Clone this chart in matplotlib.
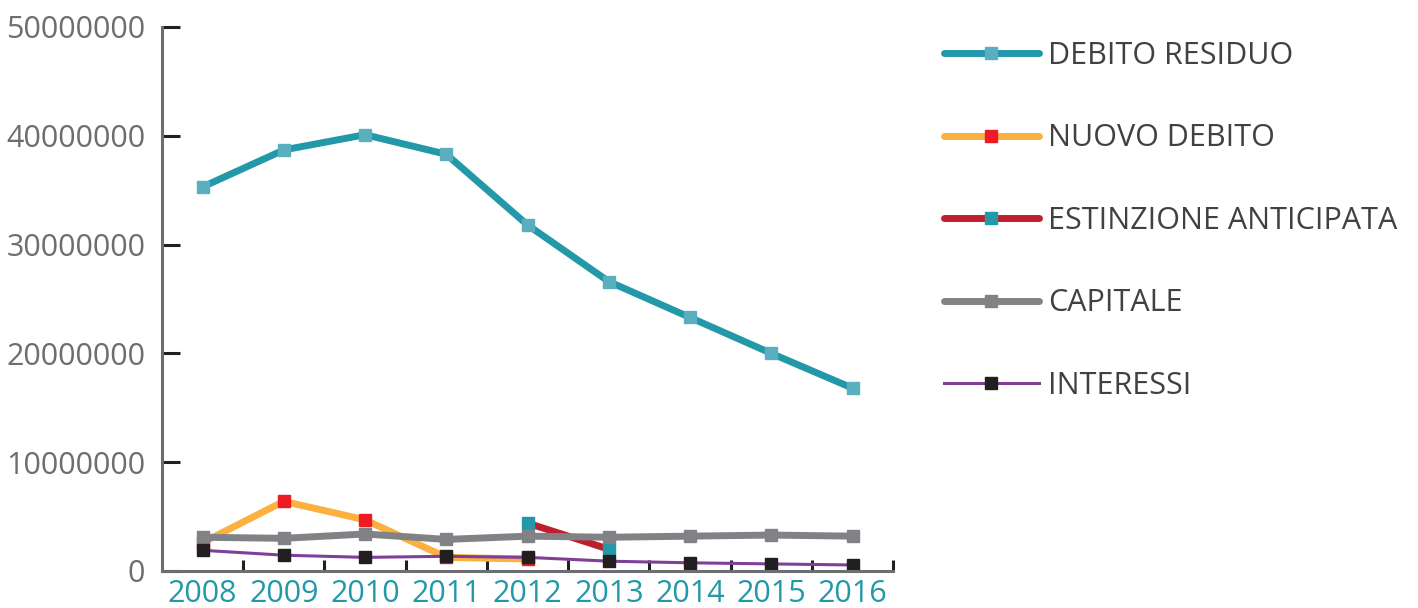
import matplotlib
matplotlib.use("Agg")
import matplotlib.pyplot as plt
import numpy as np

plt.rcParams['font.family'] = ['Open Sans', 'DejaVu Sans']

years = [2008, 2009, 2010, 2011, 2012, 2013, 2014, 2015, 2016]

debito_residuo = [35300000, 38700000, 40100000, 38300000, 31800000, 26600000, 23300000, 20000000, 16800000]
nuovo_debito = [2600000, 6400000, 4700000, 1250000, 1100000, np.nan, np.nan, np.nan, np.nan]
estinzione = [np.nan, np.nan, np.nan, np.nan, 4400000, 2000000, np.nan, np.nan, np.nan]
capitale = [3100000, 3000000, 3400000, 2900000, 3200000, 3100000, 3200000, 3300000, 3200000]
interessi = [1900000, 1450000, 1250000, 1350000, 1250000, 900000, 750000, 650000, 550000]

labels = ["DEBITO RESIDUO", "NUOVO DEBITO", "ESTINZIONE ANTICIPATA", "CAPITALE", "INTERESSI"]

fig = plt.figure(figsize=(14.18, 6.08), dpi=100)
ax = fig.add_axes([0.1142, 0.0609, 0.5157, 0.8947])

ax.plot(years, debito_residuo, color="#2298a8", lw=5, solid_capstyle="round",
        marker="s", ms=8.5, mfc="#5aafbf", mec="#5aafbf", label=labels[0])
ax.plot(years, nuovo_debito, color="#fbb040", lw=5, solid_capstyle="round",
        marker="s", ms=8.5, mfc="#ed1c24", mec="#ed1c24", label=labels[1])
ax.plot(years, estinzione, color="#be1e2d", lw=5, solid_capstyle="round",
        marker="s", ms=8.5, mfc="#2298a8", mec="#2298a8", label=labels[2])
ax.plot(years, capitale, color="#808285", lw=5, solid_capstyle="round",
        marker="s", ms=8.5, mfc="#808285", mec="#808285", label=labels[3])
ax.plot(years, interessi, color="#7f3f98", lw=2.2,
        marker="s", ms=8.5, mfc="#231f20", mec="#231f20", label=labels[4])

ax.set_xlim(2007.5, 2016.5)
ax.set_ylim(0, 50000000)

for s in ["top", "right"]:
    ax.spines[s].set_visible(False)
for s in ["left", "bottom"]:
    ax.spines[s].set_color("#6d6e71")
    ax.spines[s].set_linewidth(2.2)

ax.set_yticks(np.arange(0, 50000001, 10000000))
ax.set_yticklabels([str(v) for v in range(0, 50000001, 10000000)])
ax.tick_params(axis="y", direction="in", length=13, width=2.2, color="#231f20",
               labelsize=22, labelcolor="#6d6e71", pad=12)

ax.set_xticks(years)
ax.set_xticklabels([str(y) for y in years])
ax.set_xticks(np.arange(2008.5, 2017, 1), minor=True)
ax.tick_params(axis="x", which="major", length=0, labelsize=22, labelcolor="#2298a8", pad=6)
ax.tick_params(axis="x", which="minor", direction="in", length=8, width=2.2, color="#231f20")

leg = ax.legend(loc="upper left", bbox_to_anchor=(0.657, 0.953), bbox_transform=fig.transFigure,
                frameon=False, fontsize=22, handlelength=3.1, handletextpad=0.3,
                labelspacing=1.72, numpoints=1, borderaxespad=0)
for t in leg.get_texts():
    t.set_color("#414042")

fig.savefig("out.png", dpi=100)
